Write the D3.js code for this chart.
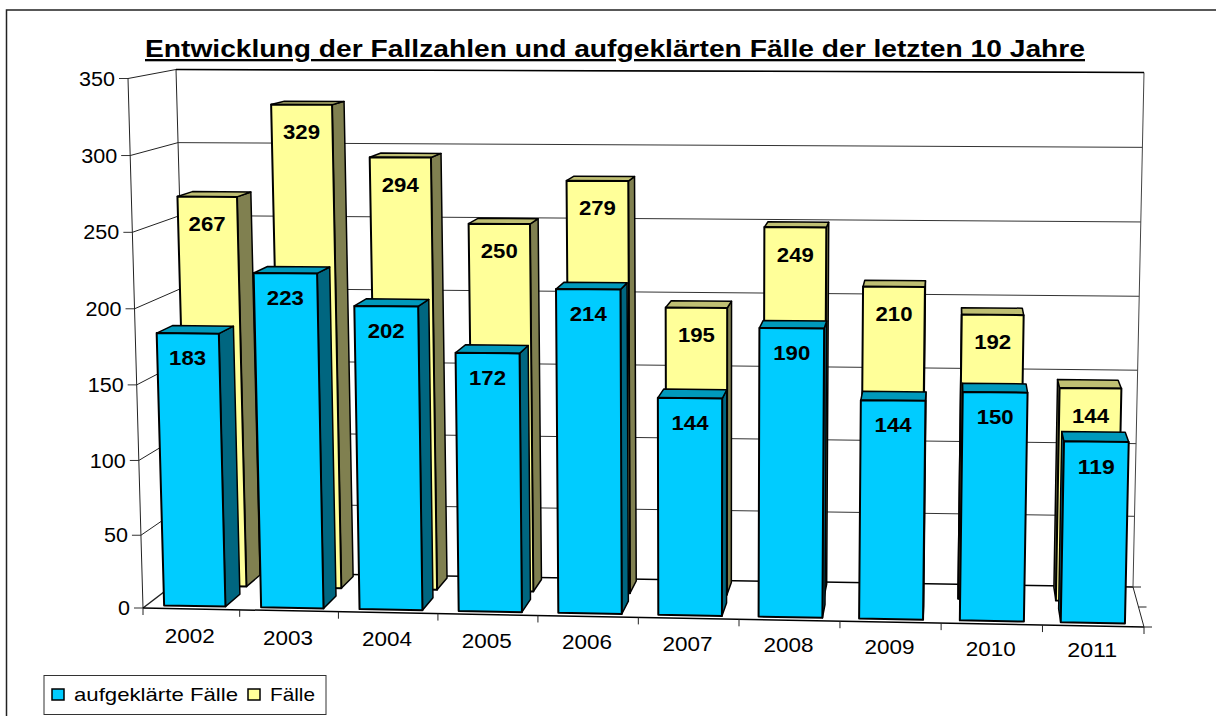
<!DOCTYPE html>
<html><head><meta charset="utf-8">
<script src="https://cdnjs.cloudflare.com/ajax/libs/d3/7.8.5/d3.min.js"></script>
<style>html,body{margin:0;padding:0;background:#fff}svg{display:block}text{font-family:"Liberation Sans",Arial,sans-serif;fill:#000}</style>
</head><body><svg id="c" width="1216" height="716"></svg>
<script>
const titleText = "Entwicklung der Fallzahlen und aufgeklärten Fälle der letzten 10 Jahre";
const categories = ["2002","2003","2004","2005","2006","2007","2008","2009","2010","2011"];
const solved = [183,223,202,172,214,144,190,144,150,119];
const cases  = [267,329,294,250,279,195,249,210,192,144];
const yTicks = [0,50,100,150,200,250,300,350];
const seriesNames = ["aufgeklärte Fälle","Fälle"];

const svg = d3.select("#c");
const corners = {
  fbl:[143,608], fbr:[1144,627], ftl:[128,78.5], ftr:[1156,79],
  bbl:[190,572], bbr:[1133,587], btl:[176,69.5], btr:[1144,72.5]
};
const U = d3.scalePow().exponent(1.015).domain([0,10]).range([0,1]);
const V = d3.scalePow().exponent(1.02).domain([0,350]).range([0,1]);
const W = d3.scaleLinear().domain([0,1]).range([0,1]);
const lerp = (a,b,t)=>[a[0]+(b[0]-a[0])*t, a[1]+(b[1]-a[1])*t];
function P(u,v,w){
  const a=U(u), b=V(v), c=W(w), k=corners;
  const fb=lerp(k.fbl,k.fbr,a), ft=lerp(k.ftl,k.ftr,a), bb=lerp(k.bbl,k.bbr,a), bt=lerp(k.btl,k.btr,a);
  return lerp(lerp(fb,ft,b),lerp(bb,bt,b),c);
}
const poly=(pts,fill,sw)=>svg.append("path").attr("d","M"+pts.map(p=>p.join(",")).join("L")+"Z")
  .attr("fill",fill).attr("stroke","#000").attr("stroke-width",sw).attr("stroke-linejoin","round");
const line=(a,b,col,sw)=>svg.append("line").attr("x1",a[0]).attr("y1",a[1]).attr("x2",b[0]).attr("y2",b[1])
  .attr("stroke",col).attr("stroke-width",sw);

svg.append("path").attr("d","M1216,10H6.5V716").attr("fill","none").attr("stroke","#222").attr("stroke-width",1.5);

svg.append("text").attr("x",615).attr("y",57).attr("text-anchor","middle")
  .attr("font-size",23).attr("font-weight","bold").attr("textLength",940).attr("lengthAdjust","spacingAndGlyphs")
  .attr("text-decoration","underline").text(titleText);

yTicks.forEach(t=>{
  const z=t===0;
  line(P(0,t,0),P(0,t,1),"#222",z?1.5:1);
  line(P(0,t,1),P(10,t,1),z?"#000":"#333",z?1.5:1);
  const a=P(0,t,0);
  line([a[0]-9,a[1]],a,"#333",1);
  svg.append("text").attr("x",a[0]-13).attr("y",a[1]).attr("dy","0.35em").attr("text-anchor","end")
    .attr("font-size",20.5).attr("textLength",String(t).length*12).attr("lengthAdjust","spacingAndGlyphs").text(t);
});
line(P(0,0,0),P(0,350,0),"#222",1);
line(P(0,0,1),P(0,350,1),"#222",1);
line(P(10,0,1),P(10,350,1),"#444",1);
line(P(0,350,1),P(10,350,1),"#000",1.5);
line(P(0,0,0),P(10,0,0),"#000",1.5);
line(P(10,0,0),P(10,0,1),"#222",1);
d3.range(0,11).forEach(i=>{ const a=P(i,0,0); line(a,[a[0],a[1]+7],"#222",1); });
[0,0.5,1].forEach(w=>{ const a=P(10,0,w); line(a,[a[0]+8,a[1]],"#222",1); });
const labelDrop = d3.scaleLinear().domain([0,9]).range([27,24]);
categories.forEach((c,i)=>{
  const a=P(i+0.5,0,0);
  svg.append("text").attr("x",a[0]-1).attr("y",a[1]+labelDrop(i)).attr("dy","0.35em").attr("text-anchor","middle")
    .attr("font-size",20.5).attr("textLength",50).attr("lengthAdjust","spacingAndGlyphs").text(c);
});

const styles={
  blue:{front:"#00CCFF",top:"#0099BB",side:"#006680",w0:0.08,w1:0.42,a:0.185,b:0.82,drop:24.5},
  yellow:{front:"#FFFF99",top:"#BFBF73",side:"#808050",w0:0.63,w1:0.95,a:0.17,b:0.795,drop:27}
};
function bar(i,val,s){
  const a=i+s.a,b=i+s.b;
  const fl0=P(a,0,s.w0),fr0=P(b,0,s.w0),fl1=P(a,val,s.w0),fr1=P(b,val,s.w0);
  const bl0=P(a,0,s.w1),br0=P(b,0,s.w1),bl1=P(a,val,s.w1),br1=P(b,val,s.w1);
  if(bl1[0]<fl1[0]) poly([fl0,bl0,bl1,fl1],s.side,1.5);
  if(br1[0]>fr1[0]) poly([fr0,br0,br1,fr1],s.side,1.5);
  poly([fl1,bl1,br1,fr1],s.top,1.5);
  poly([fl0,fr0,fr1,fl1],s.front,2);
}
function label(i,val,s){
  const p=P(i+(s.a+s.b)/2,val,s.w0);
  svg.append("text").attr("x",p[0]).attr("y",p[1]+s.drop).attr("dy","0.35em").attr("text-anchor","middle")
    .attr("font-size",21).attr("font-weight","bold").attr("textLength",37).attr("lengthAdjust","spacingAndGlyphs").text(val);
}
cases.forEach((v,i)=>bar(i,v,styles.yellow));
cases.forEach((v,i)=>label(i,v,styles.yellow));
solved.forEach((v,i)=>bar(i,v,styles.blue));
solved.forEach((v,i)=>label(i,v,styles.blue));

svg.append("rect").attr("x",44).attr("y",675.5).attr("width",282).attr("height",39)
  .attr("fill","#fff").attr("stroke","#333").attr("stroke-width",1);
[{x:52,t:74,c:styles.blue.front,l:164},{x:248,t:270,c:styles.yellow.front,l:45}].forEach((d,i)=>{
  svg.append("rect").attr("x",d.x).attr("y",689).attr("width",12).attr("height",11).attr("fill",d.c).attr("stroke","#000").attr("stroke-width",1.5);
  svg.append("text").attr("x",d.t).attr("y",701).attr("font-size",19).attr("textLength",d.l).attr("lengthAdjust","spacingAndGlyphs").text(seriesNames[i]);
});
</script></body></html>
